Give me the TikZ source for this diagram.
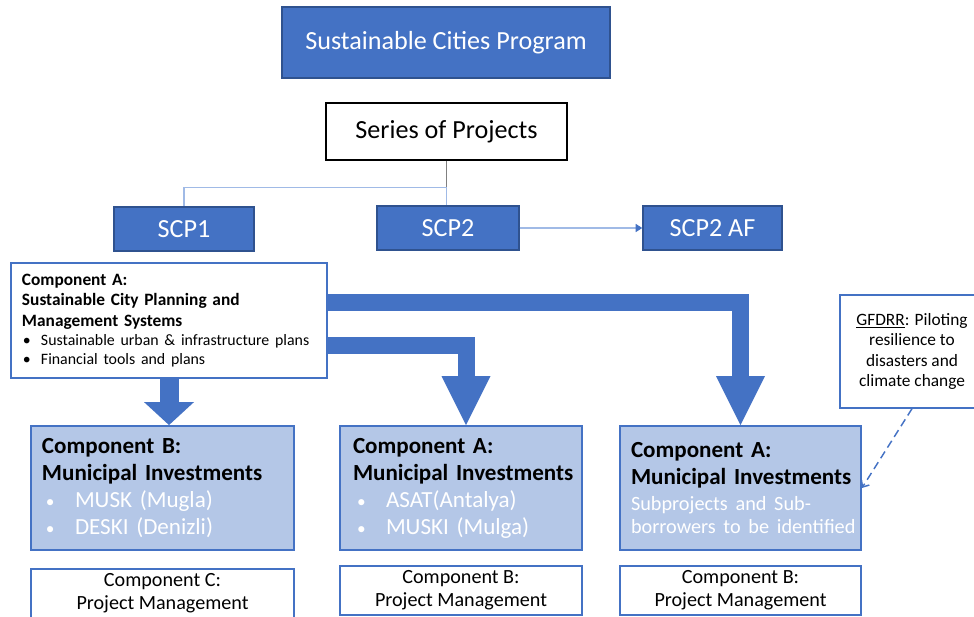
\documentclass[tikz,border=0pt]{standalone}
\usepackage{fontspec}
\setmainfont{Carlito}
\usetikzlibrary{arrows.meta,calc}

\definecolor{scpblue}{RGB}{68,114,196}
\definecolor{scpdark}{RGB}{47,82,143}
\definecolor{scplight}{RGB}{180,199,231}
\definecolor{scpline}{RGB}{160,186,230}

\newlength{\px}
\setlength{\px}{0.75pt}

\newcommand{\bigsize}{\fontsize{19.6}{23.5}\selectfont}
\newcommand{\invsize}{\fontsize{17.3}{20.25}\selectfont}
\newcommand{\subsize}{\fontsize{15.2}{17.25}\selectfont}
\newcommand{\mgmtsize}{\fontsize{15.1}{17}\selectfont}
\newcommand{\notesize}{\fontsize{13}{15.4}\selectfont}
\newcommand{\plansize}{\fontsize{13}{15.4}\selectfont}
\newcommand{\planitemsize}{\fontsize{11.9}{14.25}\selectfont}

\newcommand{\invitem}[1]{\makebox[24.75pt][l]{\hspace{3pt}{\fontsize{13}{13}\selectfont\textbullet}}#1}
\newcommand{\planitem}[1]{\makebox[14.25pt][l]{\hspace{0.75pt}\textbullet}#1}

\begin{document}
\begin{tikzpicture}[x=0.75pt,y=0.75pt,yscale=-1,xscale=1,
    every node/.style={inner sep=0pt},
    boxdim/.style 2 args={minimum width=#1\px, minimum height=#2\px},
    textdim/.style n args={3}{text width=#1\px, minimum height=#2\px,
        execute at begin node={\leftskip=#3\px}},
    progbox/.style={draw=scpdark, line width=1pt, fill=scpblue, text=white, font=\bigsize},
    seriesbox/.style={draw=black, line width=1.1pt, fill=white, font=\bigsize},
    planbox/.style={draw=scpblue, line width=1.1pt, fill=white, align=left, font=\plansize},
    invbox/.style={draw=scpblue, line width=1.4pt, fill=scplight, align=left, font=\invsize},
    mgmtbox/.style={draw=scpblue, line width=1.1pt, fill=white, align=center, font=\mgmtsize},
    notebox/.style={draw=scpblue, line width=1pt, fill=white, align=center, font=\notesize},
    thinlink/.style={draw=scpline, line width=1.1pt},
    fatarrow/.style n args={3}{draw=scpblue, line width=#1,
        -{Triangle[width=#2, length=#3, line width=0pt]}},
]
        \useasboundingbox (0,0) rectangle (974,617);

        % Top of the hierarchy
        \node[progbox, boxdim={328}{71}] (prog) at (446,42.5) {\raisebox{-1.5pt}{Sustainable Cities Program}};
        \node[seriesbox, boxdim={241}{57}] (series) at (446.5,131.5) {\raisebox{-1.5pt}{Series of Projects}};

        % Projects
        \node[progbox, boxdim={140}{44}] (scpone) at (184,229) {SCP1};
        \node[progbox, boxdim={142}{44}] (scptwo) at (448,228) {SCP2};
        \node[progbox, boxdim={139}{44}] (scpaf) at (712.5,228) {SCP2 AF};

        % Component A of SCP1
        \node[planbox, textdim={316}{115}{11}] (plan) at (169,320.5) {%
            \textbf{Component A:}\\
            \textbf{Sustainable City Planning and}\\
            \textbf{Management Systems}\par
            {\planitemsize\planitem{Sustainable urban \& infrastructure plans}\\
            \planitem{Financial tools and plans}\par}};

        % Municipal investments
        \node[invbox, textdim={263}{124}{11}] (invone) at (162.5,488) {%
            \textbf{Component B:}\\
            \textbf{Municipal Investments}\\
            \textcolor{white}{\invitem{MUSK (Mugla)}}\\
            \textcolor{white}{\invitem{DESKI (Denizli)}}};
        \node[invbox, textdim={242}{124}{13}] (invtwo) at (461,488) {%
            \textbf{Component A:}\\
            \textbf{Municipal Investments}\\
            \textcolor{white}{\invitem{ASAT(Antalya)}}\\
            \textcolor{white}{\invitem{MUSKI (Mulga)}}};
        \node[invbox, textdim={241}{124}{11}] (invthree) at (740.5,488) {%
            \textbf{Component A:}\\
            \textbf{Municipal Investments}\par
            {\subsize\color{white}\vspace{2.25pt}Subprojects and Sub-\\
            borrowers to be identified\par}};

        % Project management
        \node[mgmtbox, boxdim={263}{49}] (mgmtone) at (162.5,593.5) {Component C:\\Project Management};
        \node[mgmtbox, boxdim={242}{49}] (mgmttwo) at (461,590.5) {Component B:\\Project Management};
        \node[mgmtbox, boxdim={241}{49}] (mgmtthree) at (740.5,590.5) {Component B:\\Project Management};

        % GFDRR note
        \node[notebox, boxdim={144}{113}] (note) at (912,351.5) {\underline{GFDRR}: Piloting\\resilience to\\disasters and\\climate change};

        % Links
        \coordinate (split) at ($(series.south)+(0,27)$);
        \draw[draw=gray, line width=1.1pt] (series.south) -- (split);
        \draw[thinlink] (split) -| (scpone.north);
        \draw[thinlink] (split) -- (split |- scptwo.north);
        \draw[thinlink, -{Triangle[width=6pt, length=5pt, color=scpblue]}] (scptwo.east) -- (scpaf.west);

        % Block arrows
        \draw[fatarrow={14.25pt}{37.5pt}{17.25pt}] (plan.south) -- (plan.south |- invone.north);
        \draw[fatarrow={12.75pt}{36.75pt}{36.75pt}] ($(plan.east)+(0,24.5)$) -| ($(invtwo.north)+(5,0)$);
        \draw[fatarrow={12.75pt}{36.75pt}{36.75pt}] ($(plan.east)+(0,-18)$) -| (invthree.north);

        % Dashed pointer
        \draw[draw=scpblue, line width=1.1pt, dash pattern=on 6pt off 3.5pt,
            -{Straight Barb[length=4pt, width=7pt]}] (note.south) -- (invthree.east);

\end{tikzpicture}
\end{document}
